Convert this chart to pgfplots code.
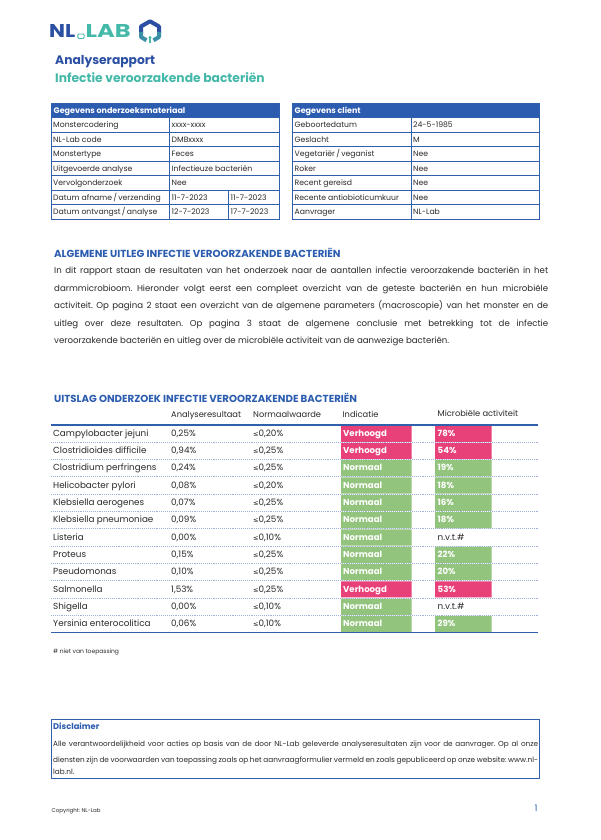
\documentclass[border=0pt]{standalone}
\usepackage{pgfplots}
\pgfplotsset{compat=1.18}
\usepackage{pgfplotstable}
\usepackage{fontspec}
\setmainfont{Poppins}
\newfontfamily\sym{DejaVu Sans}
\definecolor{nlblue}{HTML}{2B4FA3}
\definecolor{nlteal}{HTML}{45B9A9}
\definecolor{tblue}{HTML}{3060AD}
\definecolor{hblue}{HTML}{2C5CB0}
\definecolor{pinkc}{HTML}{E8417A}
\definecolor{greenc}{HTML}{93C47D}
\definecolor{txt}{HTML}{2A2A2A}
\definecolor{dotc}{HTML}{9FB3DA}

% rows of the results table: y = row centre; stacked widths of the coloured cells
\pgfplotstableread{
y pad indP indG gap actP actG
433.65 341 70.7 0 23.3 56.7 0
450.95 341 70.7 0 23.3 56.7 0
468.25 341 0 70.7 23.3 0 56.7
485.55 341 0 70.7 23.3 0 56.7
502.85 341 0 70.7 23.3 0 56.7
520.15 341 0 70.7 23.3 0 56.7
537.45 341 0 70.7 23.3 0 0
554.75 341 0 70.7 23.3 0 56.7
572.05 341 0 70.7 23.3 0 56.7
589.35 341 70.7 0 23.3 56.7 0
606.65 341 0 70.7 23.3 0 0
623.95 341 0 70.7 23.3 0 56.7
}\cells

\newcommand{\fs}[1]{\fontsize{#1}{#1}\selectfont}
\newcommand{\lesym}{{\sym\fs{6.5}≤}}
\frenchspacing

\begin{document}
\begin{tikzpicture}[t/.style={anchor=mid west, inner sep=0pt, text=txt}]
\fill[white] (0,0) rectangle (600pt,840pt);
\begin{axis}[
  at={(0,0)}, anchor=south west,
  width=600pt, height=840pt, scale only axis,
  xmin=0, xmax=600, ymin=0, ymax=840, y dir=reverse,
  hide axis, clip=false,
  xbar stacked, bar width=16.2,
]
% coloured cells (pgfplots stacked bars)
\addplot[draw=none, fill=none] table[x=pad, y=y]{\cells};
\addplot[draw=none, fill=pinkc] table[x=indP, y=y]{\cells};
\addplot[draw=none, fill=greenc] table[x=indG, y=y]{\cells};
\addplot[draw=none, fill=none] table[x=gap, y=y]{\cells};
\addplot[draw=none, fill=pinkc] table[x=actP, y=y]{\cells};
\addplot[draw=none, fill=greenc] table[x=actG, y=y]{\cells};
\end{axis}

\begin{scope}[x=1pt, y=-1pt, shift={(0pt,840pt)}]
% ---------- logo ----------
\node[anchor=mid west, inner sep=0pt, text=nlblue] at (49,34.5) {\fs{18.5}\bfseries\scalebox{1.15}[1]{NL}};
\draw[nlteal, line width=0.9pt, rounded corners=1.2pt] (77.8,34) rectangle (84.2,38.5);
\node[anchor=mid west, inner sep=0pt, text=nlteal] at (85.5,34.5) {\fs{18.5}\bfseries\scalebox{1.3}[1]{LAB}};
\draw[line width=4pt, nlblue, line join=round] (141,33) -- (141,26.5) -- (150,21.3) -- (159,26.5) -- (159,33);
\draw[line width=4pt, nlteal!60!nlblue, line join=round] (141,32) -- (141,37) -- (146.5,40.3);
\draw[line width=4pt, nlteal!60!nlblue, line join=round] (159,32) -- (159,37) -- (153.5,40.3);
\draw[line width=1.6pt, nlteal] (150,37.5) -- (150,43);
\fill[nlteal] (150,37.5) circle (1.6);

\node[anchor=mid west, inner sep=0pt, text=nlblue] at (55,62) {\fs{12.3}\bfseries Analyserapport};
\node[anchor=mid west, inner sep=0pt, text=nlteal] at (55,80) {\fs{12.3}\bfseries Infectie veroorzakende bacteriën};

% ---------- left table ----------
\fill[hblue] (51,103.3) rectangle (279,117.7);
\foreach \yy in {117.7,132.2,146.7,161.2,175.7,190.2,204.7,219.2}
  \draw[tblue, line width=0.8pt] (51,\yy) -- (279,\yy);
\draw[tblue, line width=0.9pt] (51,103.3) rectangle (279,219.2);
\draw[tblue, line width=0.8pt] (169.3,117.7) -- (169.3,219.2);
\draw[tblue, line width=0.8pt] (228.3,190.2) -- (228.3,219.2);
\node[anchor=mid west, inner sep=0pt, text=white] at (53.5,110.5) {\fs{8}\bfseries Gegevens onderzoeksmateriaal};
\foreach \yy/\a/\b in {124.95/Monstercodering/xxxx-xxxx, 139.45/NL-Lab code/DMBxxxx, 153.95/Monstertype/Feces, 168.45/Uitgevoerde analyse/Infectieuze bacteriën, 182.95/Vervolgonderzoek/Nee, 197.45/{Datum afname\,/\,verzending}/11-7-2023, 211.95/{Datum ontvangst\,/\,analyse}/12-7-2023}{
  \node[t] at (53,\yy) {\fs{7.7}\a};
  \node[t] at (171.5,\yy) {\fs{7.7}\b};
}
\node[t] at (230.5,197.45) {\fs{7.7}11-7-2023};
\node[t] at (230.5,211.95) {\fs{7.7}17-7-2023};

% ---------- right table ----------
\fill[hblue] (292.3,103.3) rectangle (539,117.7);
\foreach \yy in {117.7,132.2,146.7,161.2,175.7,190.2,204.7,219.2}
  \draw[tblue, line width=0.8pt] (292.3,\yy) -- (539,\yy);
\draw[tblue, line width=0.9pt] (292.3,103.3) rectangle (539,219.2);
\draw[tblue, line width=0.8pt] (411,117.7) -- (411,219.2);
\node[anchor=mid west, inner sep=0pt, text=white] at (294.5,110.5) {\fs{8}\bfseries Gegevens client};
\foreach \yy/\a/\b in {124.95/Geboortedatum/24-5-1985, 139.45/Geslacht/M, 153.95/{Vegetariër\,/\,veganist}/Nee, 168.45/Roker/Nee, 182.95/Recent gereisd/Nee, 197.45/Recente antiobioticumkuur/Nee, 211.95/Aanvrager/NL-Lab}{
  \node[t] at (294.5,\yy) {\fs{7.7}\a};
  \node[t] at (413,\yy) {\fs{7.7}\b};
}

% ---------- general explanation ----------
\node[anchor=mid west, inner sep=0pt, text=hblue] at (54,255) {\fs{10.2}\bfseries ALGEMENE UITLEG INFECTIE VEROORZAKENDE BACTERIËN};
\foreach \yy/\l in {271/In dit rapport staan de resultaten van het onderzoek naar de aantallen infectie veroorzakende bacteriën in het,
  288.3/darmmicrobioom. Hieronder volgt eerst een compleet overzicht van de geteste bacteriën en hun microbiële,
  305.7/activiteit. Op pagina 2 staat een overzicht van de algemene parameters (macroscopie) van het monster en de,
  323.3/uitleg over deze resultaten. Op pagina 3 staat de algemene conclusie met betrekking tot de infectie}
  \node[t] at (54,\yy) {\fs{8.6}\makebox[494pt][s]{\l}};
\node[t] at (54,340.7) {\fs{8.6}veroorzakende bacteriën en uitleg over de microbiële activiteit van de aanwezige bacteriën.};

% ---------- results table ----------
\node[anchor=mid west, inner sep=0pt, text=hblue] at (54,400) {\fs{10.2}\bfseries UITSLAG ONDERZOEK INFECTIE VEROORZAKENDE BACTERIËN};
\node[t] at (171,414.5) {\fs{8.3}Analyseresultaat};
\node[t] at (253,414.5) {\fs{8.3}Normaalwaarde};
\node[t] at (342.5,414.5) {\fs{8.3}Indicatie};
\node[t] at (437.5,413.5) {\fs{8.3}Microbiële activiteit};
\draw[tblue, line width=1.2pt] (51,425) -- (538,425);
\foreach \i in {1,...,11}
  \draw[dotc, line width=0.9pt, densely dotted] (51,425+17.3*\i) -- (538,425+17.3*\i);
\draw[tblue, line width=1.2pt] (51,632.6) -- (538,632.6);
\foreach \yy/\n/\r/\nv/\ind/\act in {
  433.65/Campylobacter jejuni/{0,25\%}/{0,20\%}/Verhoogd/78\%,
  450.95/Clostridioides difficile/{0,94\%}/{0,25\%}/Verhoogd/54\%,
  468.25/Clostridium perfringens/{0,24\%}/{0,25\%}/Normaal/19\%,
  485.55/Helicobacter pylori/{0,08\%}/{0,20\%}/Normaal/18\%,
  502.85/Klebsiella aerogenes/{0,07\%}/{0,25\%}/Normaal/16\%,
  520.15/Klebsiella pneumoniae/{0,09\%}/{0,25\%}/Normaal/18\%,
  554.75/Proteus/{0,15\%}/{0,25\%}/Normaal/22\%,
  572.05/Pseudomonas/{0,10\%}/{0,25\%}/Normaal/20\%,
  589.35/Salmonella/{1,53\%}/{0,25\%}/Verhoogd/53\%,
  623.95/Yersinia enterocolitica/{0,06\%}/{0,10\%}/Normaal/29\%}{
  \node[t] at (53,\yy) {\fs{8.8}\n};
  \node[t] at (171,\yy) {\fs{8.8}\r};
  \node[t] at (253,\yy) {\fs{8.8}\lesym\nv};
  \node[t, text=white] at (343,\yy) {\fs{8.6}\bfseries\ind};
  \node[t, text=white] at (437.5,\yy) {\fs{8.6}\bfseries\act};
}
\foreach \yy/\n in {537.45/Listeria, 606.65/Shigella}{
  \node[t] at (53,\yy) {\fs{8.8}\n};
  \node[t] at (171,\yy) {\fs{8.8}0,00\%};
  \node[t] at (253,\yy) {\fs{8.8}\lesym 0,10\%};
  \node[t, text=white] at (343,\yy) {\fs{8.6}\bfseries Normaal};
  \node[t] at (437.5,\yy) {\fs{8.8}n.v.t.\#};
}
\node[t] at (53,651) {\fs{6}\# niet van toepassing};

% ---------- disclaimer ----------
\draw[tblue, line width=1pt] (51,720) rectangle (539,779);
\node[anchor=mid west, inner sep=0pt, text=hblue] at (53,726.7) {\fs{8.3}\bfseries Disclaimer};
\node[t] at (53,743.3) {\fs{7.3}\makebox[485pt][s]{Alle verantwoordelijkheid voor acties op basis van de door NL-Lab geleverde analyseresultaten zijn voor de aanvrager. Op al onze}};
\node[t] at (53,759.3) {\fs{7.3}\makebox[485pt][s]{diensten zijn de voorwaarden van toepassing zoals op het aanvraagformulier vermeld en zoals gepubliceerd op onze website: www.nl-}};
\node[t] at (53,771.8) {\fs{7.3}lab.nl.};

% ---------- footer ----------
\node[t] at (51.5,810) {\fs{5.5}Copyright: NL-Lab};
\node[anchor=mid west, inner sep=0pt, text=hblue] at (534.5,808.5) {\fs{9}1};
\end{scope}
\end{tikzpicture}
\end{document}
